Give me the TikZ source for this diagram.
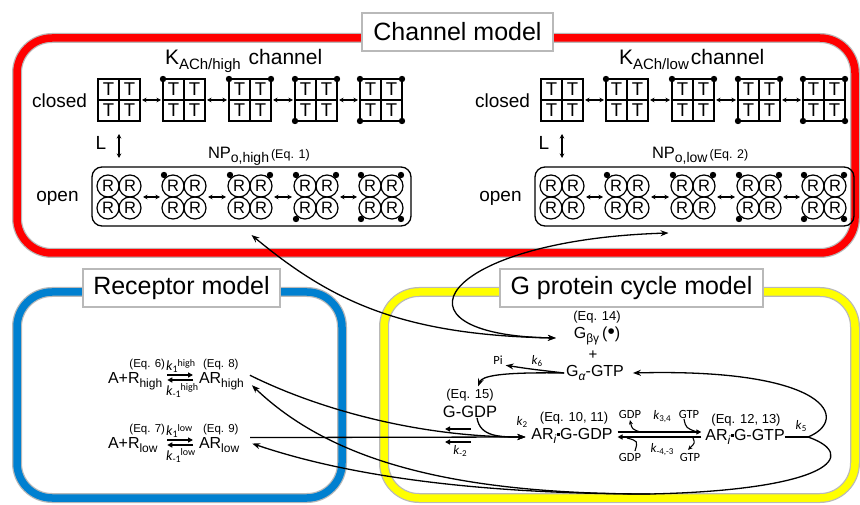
\documentclass[tikz,border=0pt]{standalone}
\usepackage{fontspec}
\setmainfont{Liberation Sans}
\newfontfamily\carl{Carlito}
\usetikzlibrary{arrows.meta}
\newcommand\fs[1]{\fontsize{#1}{#1}\selectfont}
\newcommand\mysub[3]{\raisebox{-#2}{\fs{#1}#3}}
\newcommand\mysup[3]{\raisebox{#2}{\fs{#1}#3}}
\newcommand\sq{\raisebox{3.5pt}{\rule{3.5pt}{3.5pt}}}
\definecolor{bandgray}{RGB}{185,185,185}
\definecolor{bandblue}{RGB}{0,128,208}
\definecolor{bandyellow}{RGB}{255,255,0}
\definecolor{bandred}{RGB}{255,0,0}
\tikzset{
  every node/.style={inner sep=0pt, outer sep=0pt},
  bandout/.style={line width=10pt, bandgray, rounded corners=35pt},
  bandin/.style={line width=7.5pt, rounded corners=35pt},
  titlebox/.style={draw=bandgray, line width=1.5pt, fill=white, font=\fs{25}, minimum height=38pt},
  tquad/.style={font=\fs{18.5}},
  rcirc/.style={circle, draw, line width=1.2pt, minimum size=22pt, font=\fs{16.5}},
  dotc/.style={fill=black},
  sdarr/.style={{Stealth[length=4.5pt,width=4.5pt]}-{Stealth[length=4.5pt,width=4.5pt]}, line width=1.3pt},
  larr/.style={-{Stealth[length=8pt,width=6pt]}, line width=1.3pt},
  darr/.style={{Stealth[length=8pt,width=6pt]}-{Stealth[length=8pt,width=6pt]}, line width=1.3pt},
  lline/.style={line width=1.3pt},
  eqarr/.style={-{Triangle[length=5pt,width=5pt]}, line width=1.8pt},
  sarr/.style={-{Stealth[length=4.5pt,width=4pt]}, line width=1.1pt},
  sline/.style={line width=1.1pt},
  openbox/.style={draw, rounded corners=10pt, line width=1.3pt, minimum width=319pt, minimum height=59pt},
  pics/tbox/.style={code={
    \node[draw, line width=1.8pt, minimum size=42pt] (-box) at (0,0) {};
    \draw[line width=1.1pt] (0,-21) -- (0,21) (-21,0) -- (21,0);
    \node[tquad] (-a) at (-10.5,-10.5) {T};
    \node[tquad] (-b) at (10.5,-10.5) {T};
    \node[tquad] (-c) at (-10.5,10.5) {T};
    \node[tquad] (-d) at (10.5,10.5) {T};
  }},
  pics/rgrp/.style={code={
    \node[minimum size=44pt] (-box) at (0,0) {};
    \node[rcirc] (-a) at (-11,-11) {R};
    \node[rcirc] (-b) at (11,-11) {R};
    \node[rcirc] (-c) at (-11,11) {R};
    \node[rcirc] (-d) at (11,11) {R};
  }},
}
\begin{document}
\begin{tikzpicture}[x=1pt,y=-1pt]
\useasboundingbox (0,0) rectangle (860,505);
\clip (0,0) rectangle (860,505);
\fill[white] (0,0) rectangle (860,505);

% bands
\draw[bandout] (17,38) rectangle (855,253);
\draw[bandin, bandred] (17,38) rectangle (855,253);
\draw[bandout] (17,292) rectangle (342,498);
\draw[bandin, bandblue] (17,292) rectangle (342,498);
\draw[bandout] (384,292) rectangle (855,498);
\draw[bandin, bandyellow] (384,292) rectangle (855,498);

\node[titlebox, minimum width=191pt] (chTitle) at (457.5,32) {Channel model};
\node[titlebox, minimum width=197pt] (recTitle) at (181.5,288) {Receptor model};
\node[titlebox, minimum width=263pt] (gTitle) at (631.5,288) {G protein cycle model};

% channel blocks
\foreach \side/\off in {L/0,R/443}{
  \begin{scope}[xshift=\off]
    \foreach \cx [count=\i] in {119,184,250,316,381}{
      \pic (t\side\i) at (\cx,100) {tbox};
      \pic (r\side\i) at (\cx,197) {rgrp};
    }
    \foreach \cx/\dx/\dy in {184/-1/-1, 250/-1/-1, 250/1/-1, 316/-1/-1, 316/1/-1, 316/-1/1, 381/-1/-1, 381/1/-1, 381/-1/1, 381/1/1}{
      \fill[dotc] (\cx+21*\dx,100+21*\dy) circle (3.2);
      \fill[dotc] (\cx+20*\dx,197+22*\dy) circle (3.2);
    }
    \node[openbox] (open\side) at (251.5,196.5) {};
    \node[font=\fs{19}] (closed\side) at (59.5,101) {closed};
    \node[font=\fs{19}] (openlab\side) at (57.5,198) {open};
    \node[font=\fs{19}] (L\side) at (101,143) {L};
    \draw[sdarr] ([yshift=-13pt]t\side1-box.south) -- ([yshift=9pt]open\side.north -| t\side1-box.south);
  \end{scope}
}
\foreach \side in {L,R}{
  \foreach \i/\j in {1/2,2/3,3/4,4/5}{
    \draw[sdarr] ([xshift=2pt]t\side\i-box.east) -- ([xshift=-2pt]t\side\j-box.west);
    \draw[sdarr] ([xshift=2pt]r\side\i-box.east) -- ([xshift=-2pt]r\side\j-box.west);
  }
}
\node[anchor=base west, font=\fs{21}] (kHigh) at (165,65) {K\mysub{15}{5pt}{ACh/high}\hspace{8pt}channel};
\node[anchor=base west, font=\fs{21}] (kLow) at (619,65) {K\mysub{15}{5pt}{ACh/low}\hspace{2pt}channel};
\node[anchor=base west, font=\fs{16.5}] (npHigh) at (208,159) {NP\mysub{14}{4pt}{o,high}\hspace{2pt}{\fs{12.5}(Eq. 1)}};
\node[anchor=base west, font=\fs{16.5}] (npLow) at (652,159) {NP\mysub{14}{4pt}{o,low}\hspace{2pt}{\fs{12.5}(Eq. 2)}};

% receptor model
\node[anchor=base west, font=\fs{16}] (ARHa) at (108,383) {A+R\mysub{12}{4pt}{high}};
\node[anchor=base west, font=\fs{16}] (ARH) at (199,383) {AR\mysub{12}{4pt}{high}};
\node[anchor=base east, font=\fs{11.5}] (eq6) at (165,367) {(Eq. 6)};
\node[anchor=base west, font=\fs{11.5}] (eq8) at (203,367) {(Eq. 8)};
\node[anchor=base west, font=\carl\fs{14}] (k1h) at (166,370) {\textit{k}\mysub{10}{2.5pt}{1}\mysup{10}{4pt}{high}};
\node[anchor=base west, font=\carl\fs{14}] (km1h) at (166,395) {\textit{k}\mysub{10}{2.5pt}{-1}\mysup{10}{5pt}{high}};
\draw[eqarr] ([xshift=5pt,yshift=8pt]ARHa.base east) -- ([xshift=-6pt,yshift=8pt]ARH.base west);
\draw[eqarr] ([xshift=-6pt,yshift=3pt]ARH.base west) -- ([xshift=5pt,yshift=3pt]ARHa.base east);

\node[anchor=base west, font=\fs{16}] (ARLa) at (108,448) {A+R\mysub{12}{4pt}{low}};
\node[anchor=base west, font=\fs{16}] (ARL) at (199,448) {AR\mysub{12}{4pt}{low}};
\node[anchor=base east, font=\fs{11.5}] (eq7) at (165,432) {(Eq. 7)};
\node[anchor=base west, font=\fs{11.5}] (eq9) at (203,432) {(Eq. 9)};
\node[anchor=base west, font=\carl\fs{14}] (k1l) at (166,435) {\textit{k}\mysub{10}{2.5pt}{1}\mysup{10}{4pt}{low}};
\node[anchor=base west, font=\carl\fs{14}] (km1l) at (166,460) {\textit{k}\mysub{10}{2.5pt}{-1}\mysup{10}{5pt}{low}};
\draw[eqarr] ([xshift=5pt,yshift=8pt]ARLa.base east -| ARHa.base east) -- ([xshift=-6pt,yshift=8pt]ARL.base west);
\draw[eqarr] ([xshift=-6pt,yshift=3pt]ARL.base west) -- ([xshift=5pt,yshift=3pt]ARLa.base east -| ARHa.base east);

% G protein cycle
\node[font=\fs{13}] (eq14) at (597,317) {(Eq. 14)};
\node[font=\fs{16}] (gbg) at (597,336) {G\mysub{12}{4pt}{βγ}\hspace{3pt}(\scalebox{1.3}{\textbullet})};
\node[font=\fs{15}] (plus) at (593,355) {+};
\node[font=\fs{16}] (gat) at (595,373) {G\mysub{12}{4pt}{\textit{α}}-GTP};
\node[font=\carl\fs{12.5}] (pi) at (498,360) {Pi};
\node[font=\carl\fs{13}] (k6) at (537,361) {\textit{k}\mysub{9}{2pt}{6}};
\node[font=\fs{13}] (eq15) at (470,395) {(Eq. 15)};
\node[font=\fs{16.5}] (ggdp) at (470,412) {G-GDP};
\node[font=\fs{13}] (eq1011) at (574,418) {(Eq. 10, 11)};
\node[font=\fs{16}] (argdp) at (572,436) {AR\mysub{12}{4pt}{\textit{i}}\sq G-GDP};
\node[font=\fs{13}] (eq1213) at (746,420) {(Eq. 12, 13)};
\node[font=\fs{16}] (argtp) at (745,437) {AR\mysub{12}{4pt}{\textit{i}}\sq G-GTP};
\node[font=\carl\fs{13}] (k2) at (522,422) {\textit{k}\mysub{9}{2pt}{2}};
\node[font=\carl\fs{13}] (k5) at (801,426) {\textit{k}\mysub{9}{2pt}{5}};
\node[font=\carl\fs{13}] (km2) at (460,451) {\textit{k}\mysub{9}{2pt}{-2}};
\node[font=\carl\fs{12.5}] (gdp1) at (630,414) {GDP};
\node[font=\carl\fs{12.5}] (gtp1) at (689,414) {GTP};
\node[font=\carl\fs{13}] (k34) at (662,417) {\textit{k}\mysub{9}{2pt}{3,4}};
\node[font=\carl\fs{12.5}] (gdp2) at (630,457) {GDP};
\node[font=\carl\fs{13}] (km43) at (662,450) {\textit{k}\mysub{9}{2pt}{-4,-3}};
\node[font=\carl\fs{12.5}] (gtp2) at (690,457) {GTP};

\coordinate (J) at (808,437);
\coordinate (B) at (650,494);
\coordinate (km2a) at (471,429);
\coordinate (km2b) at (445,429);
\coordinate (km2c) at (471,442);
\coordinate (km2d) at (445,442);

% connectors
\draw[darr] ([xshift=-18pt,yshift=-2pt]gbg.west) .. controls (400,335) and (330,300) .. ([yshift=-9pt]openL.south);
\draw[darr] ([xshift=-18pt,yshift=-2pt]gbg.west) .. controls (380,335) and (440,240) .. ([xshift=-26pt,yshift=-7pt]openR.south);

\draw[lline] (argtp.east) -- (J);
\draw[larr] (J) .. controls (850,420) and (830,368) .. ([xshift=9pt]gat.east);
\draw[lline] (J) .. controls (860,455) and (830,490) .. (B);
\draw[larr] (B) .. controls (450,494) and (330,460) .. ([xshift=8pt,yshift=-4.5pt]ARH.east);
\draw[larr] (B) .. controls (450,494) and (330,470) .. ([xshift=13pt,yshift=1pt]ARL.east);

\draw[larr] ([xshift=11pt,yshift=7pt]ARL.east) -- ([xshift=-6pt,yshift=-1pt]argdp.west);
\draw[larr] ([xshift=6pt,yshift=5.5pt]ARH.east) .. controls (320,410) and (420,437) .. ([xshift=-6pt,yshift=-1pt]argdp.west);
\draw[larr] ([xshift=7pt]ggdp.south) .. controls (480,437) and (500,437) .. ([xshift=-6pt,yshift=-1pt]argdp.west);
\draw[eqarr] (km2a) -- (km2b);
\draw[eqarr] (km2c) -- (km2d);

\draw[larr] ([xshift=-2pt]gat.west) .. controls (530,369) .. ([xshift=3pt,yshift=-1pt]pi.south east);
\draw[larr] ([xshift=-2pt]gat.west) .. controls (500,372) and (482,376) .. ([xshift=8pt,yshift=2.5pt]eq15.north);

\draw[eqarr] ([xshift=5pt,yshift=4pt]argdp.east) -- ([xshift=-4pt,yshift=5pt]argtp.west);
\draw[eqarr] ([xshift=-4pt,yshift=0pt]argtp.west) -- ([xshift=5pt,yshift=-1pt]argdp.east);
\draw[sarr] (640,432) .. controls (632,429) .. ([yshift=-2pt]gdp1.south);
\draw[sline] ([xshift=-5pt,yshift=-1pt]gtp1.south) .. controls (686,428) .. (697,432);
\draw[sarr] (693,438) .. controls (695,443) .. ([xshift=-2pt,yshift=3pt]gtp2.north);
\draw[sline] ([xshift=5pt,yshift=2pt]gdp2.north) .. controls (638,441) .. (627,438);
\end{tikzpicture}
\end{document}
